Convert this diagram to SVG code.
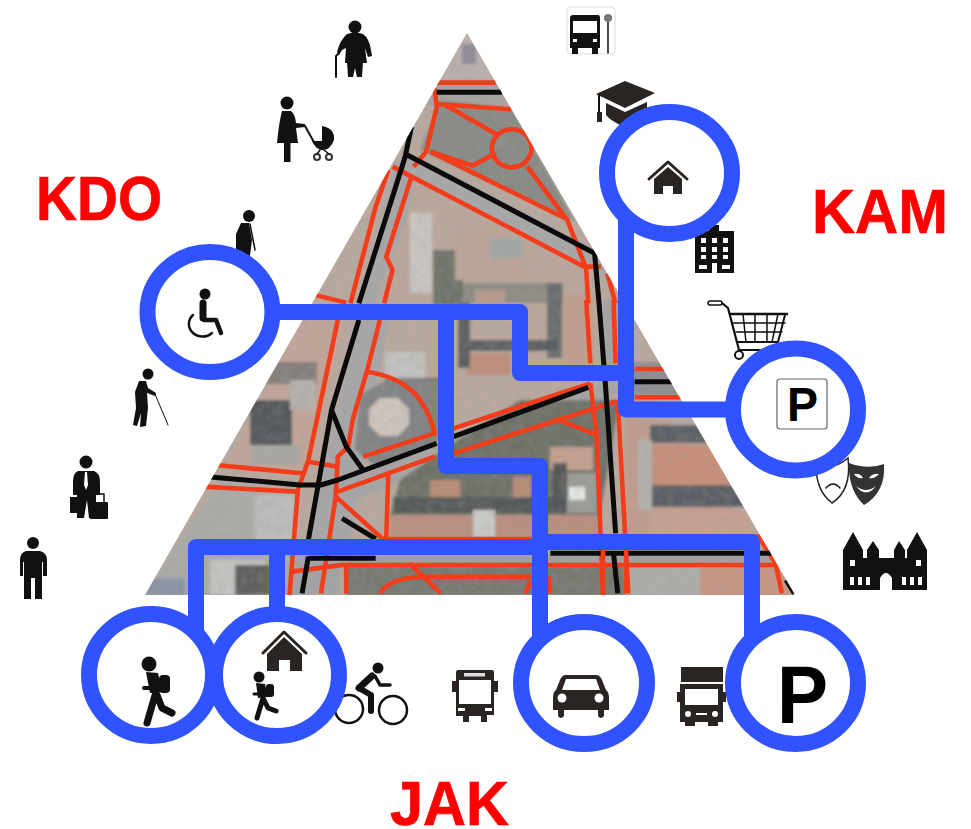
<svg xmlns="http://www.w3.org/2000/svg" width="971" height="829" viewBox="0 0 971 829">
<style>
.label{font-family:"Liberation Sans",Arial,sans-serif;font-weight:700;font-size:63px;fill:#ff0000;stroke:#ff0000;stroke-width:.7}
.pk{font-family:"Liberation Sans",Arial,sans-serif;font-weight:700;fill:#000}
.wire{fill:none;stroke:#3052ff;stroke-width:16;stroke-linejoin:round;stroke-linecap:butt}
.ring{fill:#fff;stroke:#3052ff;stroke-width:16}
.k{fill:#111}
.d{fill:#2a2522}
.w{fill:#fff}
.kl{fill:none;stroke:#111;stroke-linecap:round;stroke-linejoin:round}
.red path,.red ellipse{fill:none;stroke:#f23c1a;stroke-width:4.6;vector-effect:non-scaling-stroke;stroke-linejoin:round}
.blk path{fill:none;stroke:#0a0a0a;stroke-width:5;vector-effect:non-scaling-stroke;stroke-linejoin:round}
</style>
<defs>
<clipPath id="tri"><polygon points="467,33 795,595 145,595"/></clipPath>
<filter id="soft" x="-5%" y="-5%" width="110%" height="110%"><feGaussianBlur stdDeviation="1.6"/></filter>
<filter id="grain" x="0" y="0" width="100%" height="100%"><feTurbulence type="fractalNoise" baseFrequency=".12" numOctaves="3" seed="4"/><feColorMatrix values="0 0 0 0 .35  0 0 0 0 .35  0 0 0 0 .35  1.6 0 0 0 -.55"/></filter>
</defs>
<rect width="971" height="829" fill="#fff"/>

<g id="map" clip-path="url(#tri)">
<g filter="url(#soft)">
<rect x="140" y="30" width="660" height="570" fill="#b9a99f"/>
<rect x="420" y="30" width="100" height="50" fill="#bcb0ad"/>
<rect x="462" y="44" width="14" height="20" fill="#8d8d97"/>
<polygon points="430,80 510,80 520,105 425,105" fill="#a6a3a1"/>
<polygon points="440,100 512,108 575,222 420,150" fill="#888b86"/>
<polygon points="395,160 415,170 345,570 300,570" fill="#a7a7a9"/>
<polygon points="405,150 600,252 610,280 400,172" fill="#a8a8aa"/>
<polygon points="420,180 590,270 612,370 520,372 520,318 370,318" fill="#bba79c"/>
<rect x="410" y="213" width="22" height="80" fill="#c9c6c2"/>
<rect x="433" y="250" width="30" height="55" fill="#6f746c"/>
<rect x="455" y="230" width="70" height="50" fill="#bca598"/>
<rect x="490" y="238" width="32" height="20" fill="#a3a7a8"/>
<rect x="463" y="283" width="100" height="20" fill="#8e8c84"/>
<rect x="547" y="283" width="15" height="75" fill="#6a6d70"/>
<rect x="563" y="295" width="30" height="70" fill="#c29f90"/>
<rect x="463" y="340" width="95" height="11" fill="#5c5f62"/>
<rect x="467" y="353" width="44" height="22" fill="#c08f7d"/>
<rect x="458" y="303" width="12" height="65" fill="#5e6164"/>
<rect x="475" y="290" width="30" height="25" fill="#b79a8d"/>
<rect x="385" y="352" width="40" height="26" fill="#c2c3c0"/>
<rect x="385" y="378" width="60" height="12" fill="#5e6164"/>
<polygon points="360,395 390,378 440,380 440,440 380,470 355,450" fill="#828385"/>
<polygon points="380,398 398,398 409,409 409,425 398,436 380,436 369,425 369,409" fill="#cfc5bd"/>
<polygon points="300,320 345,320 310,470 225,470" fill="#c2a598"/>
<rect x="250" y="400" width="42" height="45" fill="#55585c"/>
<rect x="262" y="362" width="55" height="22" fill="#85807c"/>
<rect x="290" y="380" width="25" height="30" fill="#b6b1ac"/>
<rect x="250" y="445" width="50" height="20" fill="#aaa8a4"/>
<polygon points="145,595 220,480 300,490 285,595" fill="#ababa8"/>
<rect x="255" y="495" width="40" height="55" fill="#bcbcba"/>
<rect x="145" y="578" width="40" height="18" fill="#8c95a6"/>
<polygon points="320,490 620,375 620,395 330,510" fill="#a6a6a6"/>
<polygon points="450,445 520,400 620,400 600,515 390,515 400,480" fill="#6e7268"/>
<rect x="430" y="480" width="30" height="23" fill="#b98d78"/>
<rect x="513" y="477" width="18" height="20" fill="#b98d78"/>
<rect x="393" y="497" width="170" height="16" fill="#565a58"/>
<rect x="390" y="515" width="210" height="23" fill="#b98f80"/>
<rect x="473" y="510" width="22" height="27" fill="#c9c9c5"/>
<rect x="550" y="447" width="43" height="23" fill="#c4a090"/>
<rect x="567" y="473" width="30" height="40" fill="#9b9b97"/>
<rect x="553" y="463" width="14" height="50" fill="#54585a"/>
<rect x="569" y="487" width="16" height="13" fill="#e8e6e0"/>
<rect x="603" y="300" width="22" height="70" fill="#a4a4a6"/>
<polygon points="625,320 640,380 800,600 625,600" fill="#c09d8e"/>
<rect x="630" y="362" width="70" height="34" fill="#8e8e90"/>
<rect x="640" y="405" width="60" height="15" fill="#b3aba5"/>
<rect x="650" y="425" width="60" height="18" fill="#5d6268"/>
<rect x="650" y="445" width="80" height="40" fill="#c88f7a"/>
<rect x="648" y="485" width="100" height="22" fill="#5c6166"/>
<rect x="638" y="440" width="14" height="70" fill="#b4b0ac"/>
<rect x="650" y="510" width="100" height="25" fill="#c5a093"/>
<rect x="290" y="555" width="500" height="11" fill="#a0a09e"/>
<rect x="345" y="566" width="280" height="30" fill="#767a71"/>
<rect x="630" y="566" width="70" height="30" fill="#adadaa"/>
<rect x="700" y="566" width="90" height="30" fill="#c69684"/>
<rect x="290" y="545" width="50" height="50" fill="#a3a3a3"/>
<rect x="210" y="560" width="55" height="35" fill="#c3c3c0"/>
<rect x="235" y="565" width="35" height="30" fill="#5f6162"/>
</g>
<rect x="140" y="30" width="660" height="570" filter="url(#grain)" opacity=".28"/>
<g class="red" transform="translate(140,20) scale(.4209,.3333)">
<path d="M705,188H845"/><path d="M700,205L705,260L680,395L650,440"/><path d="M705,252L882,268"/><path d="M725,255L850,345"/>
<ellipse cx="883" cy="385" rx="47" ry="57"/>
<path d="M690,395L790,437L845,400"/><path d="M690,395L1010,595"/><path d="M920,440L1015,600L1060,745"/>
<path d="M600,440L1055,740L1095,740"/><path d="M590,450L560,560L500,850"/><path d="M645,470L585,710L600,750L580,850"/>
<path d="M1060,745L1065,850"/><path d="M1110,760L1130,850"/><path d="M415,825L490,848"/>
</g>
<g class="blk" transform="translate(140,20) scale(.4209,.3333)">
<path d="M705,217H860"/><path d="M645,320L630,410L520,850"/><path d="M635,405L1080,700L1090,840"/>
</g>
<g class="red" transform="translate(140,300) scale(.4209,.3333)">
<path d="M470,60L400,480L375,570L355,890"/><path d="M570,60L540,210L505,360L495,440"/>
<path d="M540,215C640,235 680,300 700,400L530,470"/><path d="M495,440L470,470L465,590L430,880"/>
<path d="M400,485L470,500"/><path d="M180,495L385,520"/><path d="M150,560L375,575"/>
<path d="M745,385L1070,250"/><path d="M470,575L700,470"/><path d="M745,460L1130,305"/>
<path d="M985,355L1085,405L1070,250"/><path d="M1085,405L1100,890"/><path d="M1135,300L1160,880"/>
<path d="M1060,0L1070,190"/><path d="M1125,0L1130,190"/><path d="M465,590L575,715"/><path d="M590,520L585,715"/>
<path d="M575,717H930"/><path d="M1175,207H1245"/><path d="M1175,292H1285"/><path d="M970,710H1470L1510,790L1525,880"/>
<path d="M360,815L480,795H1510"/><path d="M490,795V880"/><path d="M640,790L715,880"/>
<path d="M570,880C590,840 630,830 700,830H930"/><path d="M915,880L930,840"/><path d="M975,880L970,830"/>
</g>
<g class="blk" transform="translate(140,300) scale(.4209,.3333)">
<path d="M520,60L455,330L400,720"/><path d="M455,330L490,440L530,510"/>
<path d="M160,530L380,555H430L470,540L705,430"/><path d="M745,410L1065,262"/>
<path d="M1090,0L1105,240L1130,700"/><path d="M1175,245H1265"/><path d="M480,655L560,717"/>
<path d="M400,770L385,880"/><path d="M400,775H560"/><path d="M975,760H1500"/><path d="M1125,760L1135,880"/><path d="M1535,840L1555,880"/>
</g>
<g class="red" transform="translate(140,300) scale(.4209,.3333)"><path d="M1100,750V880"/><path d="M1155,750V880"/></g>
</g>

<g id="icon-old-lady">
<circle class="k" cx="355" cy="27" r="6.5"/>
<path class="k" d="M347,34Q355,31 363,34Q369,38 371,50L372,56L368,57L365,48L367,63H345L346,48L342,50L339,55L337,52Q340,40 347,34Z"/>
<path class="k" d="M347,62H363L362,77H357L355,68L353,77H348Z"/>
<path class="kl" stroke-width="2" d="M336,77V56L339,53"/>
</g>
<g id="icon-mother-stroller">
<circle class="k" cx="287" cy="103" r="6.5"/>
<path class="k" d="M282,111H291Q295,114 296,123L305,124V127L296,128L298,143H277Q279,122 282,111Z"/>
<rect class="k" x="284" y="142" width="6.5" height="20"/>
<path class="kl" stroke-width="2" d="M305,126L315,144"/>
<path class="k" d="M322,126Q335,128 334,140Q330,151 321,150Q315,148 312,141L322,141Z"/>
<g fill="none" stroke="#333" stroke-width="2"><circle cx="317" cy="157" r="3"/><circle cx="329" cy="157" r="3"/></g>
<path class="kl" stroke-width="1.5" d="M320,150L317,154M324,150L329,154"/>
</g>
<g id="icon-crutch-man">
<circle class="k" cx="249" cy="216" r="6"/>
<path class="k" d="M241,223L249,223L252,240L250,256L236,250L236,234Z"/>
<path class="kl" stroke-width="1.5" d="M250,224L255,250"/>
</g>
<g id="icon-blind-man">
<circle class="k" cx="148" cy="374" r="5.5"/>
<path class="k" d="M139,381L146,381L148,388L156,393L155,396L147,393L148,408L146,426L140,427L141,413L137,426L133,425L136,408L135,392Z"/>
<path class="kl" stroke-width="1" d="M155,394L168,425"/>
</g>
<g id="icon-businessman">
<circle class="k" cx="86" cy="462" r="6.5"/>
<path class="k" d="M78,471H94Q100,473 100,482V495H96V518H89L87,500L84,518H77V495H73V482Q73,473 78,471Z"/>
<path class="w" d="M85,472H87L88,485L86,490L84,485Z"/>
<rect class="k" x="70" y="497" width="8" height="16"/>
<rect class="k" x="90" y="502" width="18" height="17" rx="1"/>
<path class="kl" stroke-width="1.5" d="M95,502V494H104V502"/>
</g>
<g id="icon-man">
<circle class="k" cx="33" cy="543" r="6"/>
<path class="k" d="M26,551H40Q47,553 47,560V576H43V562H42V599H35V578H31V599H24V562H23V576H20V560Q20,553 26,551Z"/>
</g>
<g id="icon-bus-stop">
<rect x="567" y="7" width="48" height="47" rx="4" fill="#fff" stroke="#ddd"/>
<path class="k" d="M573,15H598Q600,15 600,18V48H570V18Q570,15 573,15Z"/>
<rect class="w" x="573" y="21" width="24" height="12"/>
<rect class="w" x="573" y="39" width="4" height="3"/><rect class="w" x="593" y="39" width="4" height="3"/>
<rect class="k" x="572" y="47" width="6" height="7"/><rect class="k" x="592" y="47" width="6" height="7"/>
<path class="kl" stroke-width="1.5" d="M608,22V53"/><circle cx="608" cy="18" r="4" fill="#777"/>
</g>
<g id="icon-graduation-cap">
<polygon class="d" points="625,81 655,93 625,108 596,94"/>
<path class="d" d="M606,103L625,112L647,102V116L620,125Q610,120 606,115Z"/>
<path class="kl" stroke-width="2" d="M599,95V116"/><rect class="d" x="597" y="112" width="5" height="10"/>
</g>
<g id="icon-building">
<rect class="k" x="709" y="225" width="10" height="8"/>
<rect class="k" x="695" y="231" width="39" height="42"/>
<g class="w"><rect x="701" y="238" width="5" height="5"/><rect x="712" y="238" width="5" height="5"/><rect x="723" y="238" width="5" height="5"/><rect x="701" y="247" width="5" height="5"/><rect x="712" y="247" width="5" height="5"/><rect x="723" y="247" width="5" height="5"/><rect x="701" y="255" width="5" height="4"/><rect x="712" y="255" width="5" height="4"/><rect x="723" y="255" width="5" height="4"/><rect x="699" y="265" width="8" height="4"/><rect x="722" y="265" width="8" height="4"/><rect x="712" y="263" width="5" height="10"/></g>
</g>
<g id="icon-cart">
<rect x="708" y="301" width="14" height="4" rx="2" fill="#fff" stroke="#111" stroke-width="1.5"/>
<path class="kl" stroke-width="2.2" d="M722,303L728,308L739,350H760"/>
<path class="kl" stroke-width="2.5" d="M731,314H787"/>
<path class="kl" stroke-width="2" d="M785,315L778,342H738"/>
<path class="kl" stroke-width="1.5" d="M733,323H785M736,332H782M743,314L746,342M755,314V342M767,314V342M778,314L772,342"/>
<circle cx="739" cy="355" r="4" fill="#fff" stroke="#111" stroke-width="2"/>
</g>
<g id="icon-masks">
<path d="M816,462Q832,472 848,458Q852,490 832,503Q815,490 816,462Z" fill="#fff" stroke="#222" stroke-width="1.5"/>
<path class="kl" stroke-width="1.5" d="M826,488Q833,480 840,488"/>
<path d="M849,463Q868,470 884,464Q886,492 864,505Q848,490 849,463Z" fill="#333"/>
<path class="w" d="M854,474Q860,473 863,478Q857,479 854,474ZM879,474Q873,473 869,478Q875,479 879,474Z"/>
<path class="w" d="M856,486Q866,494 876,486Q866,499 856,486Z"/>
</g>
<g id="icon-castle">
<path class="k" d="M843,590V550L853,532L863,550V558H867V550L873,541L879,550V558H894V550L899,541L905,550V558H907V550L917,532L927,550V590H892V578Q886,568 880,578V590Z"/>
<g class="w"><rect x="850" y="560" width="5" height="6"/><rect x="916" y="560" width="5" height="6"/><rect x="850" y="577" width="4" height="8"/><rect x="858" y="577" width="4" height="8"/><rect x="866" y="577" width="4" height="8"/><rect x="902" y="577" width="4" height="8"/><rect x="910" y="577" width="4" height="8"/><rect x="918" y="577" width="4" height="8"/></g>
</g>
<g id="icon-cyclist">
<g fill="none" stroke="#111" stroke-width="2.5"><circle cx="349" cy="709" r="14"/><circle cx="393" cy="710" r="14"/></g>
<circle class="k" cx="378" cy="668" r="5.5"/>
<path class="kl" stroke-width="7" d="M372,676L359,688"/>
<path class="kl" stroke-width="3.5" d="M375,676L380,685H390"/>
<path class="kl" stroke-width="6" d="M359,688L371,695V711"/>
</g>
<g id="icon-bus">
<path class="d" d="M456,670H492Q494,670 494,673V681H498V692H494V715H487V722H481V716H469V722H463V716H456V692H452V681H456V673Q456,670 458,670Z"/>
<rect class="w" x="459" y="680" width="32" height="24"/><rect x="464" y="673" width="21" height="3.5" fill="#ddd"/>
<rect class="w" x="458" y="708" width="7" height="3"/><rect class="w" x="485" y="708" width="7" height="3"/>
</g>
<g id="icon-truck">
<rect class="d" x="681" y="667" width="42" height="15"/>
<path class="d" d="M680,684H723V692H726V702H723V722H718V726H708V722H695V726H685V722H680V702H677V692H680Z"/>
<rect class="w" x="685" y="689" width="33" height="16"/>
<circle class="w" cx="688" cy="714" r="3"/><circle class="w" cx="715" cy="714" r="3"/><rect class="w" x="696" y="713" width="11" height="2"/>
</g>

<g id="connectors">
<path class="wire" d="M275,312H520V373H626"/>
<path class="wire" d="M626,210V409.5H730"/>
<path class="wire" d="M446,312V466H540V645"/>
<path class="wire" d="M196,640V547H540"/>
<path class="wire" d="M277,547V620"/>
<path class="wire" d="M540,542H752V650"/>
</g>

<g id="node-wheelchair">
<ellipse class="ring" cx="210" cy="312" rx="62.5" ry="60"/>
<circle class="k" cx="205" cy="294" r="5.5"/>
<path class="kl" stroke-width="7" d="M203,303V318"/>
<path class="kl" stroke-width="4.5" d="M204,320H216L221,333"/>
<path class="kl" stroke-width="2.5" d="M193,315A13,12 0 1,0 212,333"/>
</g>
<g id="node-home-top">
<ellipse class="ring" cx="669.5" cy="173" rx="62.5" ry="61"/>
<path class="kl" stroke-width="3" style="stroke:#2a2522" d="M649,179L668,162L687,179"/>
<path class="d" d="M668,167L682,179V194H673V186H663V194H654V179Z"/>
</g>
<g id="node-parking-right">
<ellipse class="ring" cx="795.5" cy="409.5" rx="62.5" ry="61"/>
<rect x="777" y="379" width="50" height="50" rx="3" fill="#fff" stroke="#666" stroke-width="1.2"/>
<text class="pk" x="787" y="421" font-size="48" textLength="31" lengthAdjust="spacingAndGlyphs">P</text>
</g>
<g id="node-walker">
<ellipse class="ring" cx="151" cy="675" rx="62" ry="61"/>
<circle class="k" cx="149" cy="664" r="7.5"/>
<path class="k" d="M146,672L158,673L162,692L150,693Z"/>
<rect class="k" x="159" y="675" width="11" height="18" rx="4"/>
<path class="kl" stroke-width="4" d="M144,688H153"/>
<path class="kl" stroke-width="7" d="M156,692L147,723M157,695L162,708L172,713"/>
</g>
<g id="node-walker-home">
<ellipse class="ring" cx="277" cy="675" rx="62" ry="61"/>
<path class="kl" stroke-width="3" style="stroke:#2a2522" d="M263,653L284,632L306,653"/>
<path class="d" d="M284,637L302,654V671H290V660H279V671H267V654Z"/>
<circle class="k" cx="259" cy="677" r="5.5"/>
<path class="k" d="M256,683L265,684L268,697L258,698Z"/>
<rect class="k" x="266" y="684" width="8" height="13" rx="3"/>
<path class="kl" stroke-width="3" d="M254,694H261"/>
<path class="kl" stroke-width="5" d="M263,698L257,718M264,700L268,708L276,711"/>
</g>
<g id="node-car">
<ellipse class="ring" cx="584" cy="683" rx="63" ry="61"/>
<path class="d" d="M566,675H596Q600,675 602,680L606,690Q609,692 609,698V710H604V716Q601,720 598,716V710H564V716Q561,720 558,716V710H553V698Q553,692 556,690L560,680Q562,675 566,675Z"/>
<path class="w" d="M566,679H596L600,690H562Z"/>
<circle class="w" cx="562" cy="698" r="4.5"/><circle class="w" cx="599" cy="698" r="4.5"/>
</g>
<g id="node-parking-bottom">
<ellipse class="ring" cx="795.5" cy="683" rx="62.5" ry="61"/>
<text class="pk" x="777" y="723" font-size="81" textLength="51" lengthAdjust="spacingAndGlyphs">P</text>
</g>

<g id="labels">
<text class="label" x="36" y="220" textLength="126" lengthAdjust="spacingAndGlyphs">KDO</text>
<text class="label" x="812" y="233" textLength="136" lengthAdjust="spacingAndGlyphs">KAM</text>
<text class="label" x="390" y="825" textLength="119" lengthAdjust="spacingAndGlyphs">JAK</text>
</g>
</svg>
